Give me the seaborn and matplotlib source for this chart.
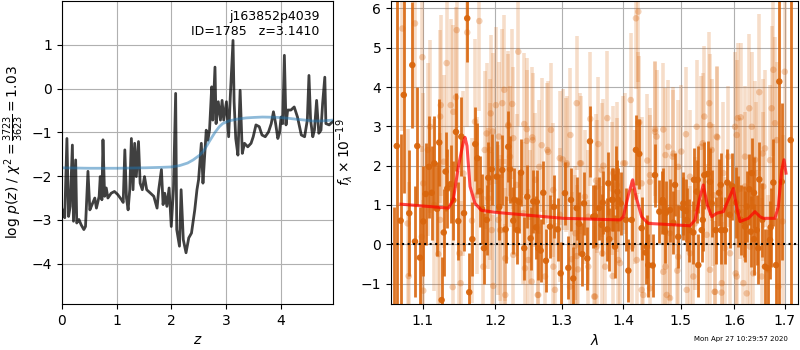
import matplotlib
matplotlib.use("Agg")
import matplotlib.pyplot as plt
import pandas as pd
import seaborn as sns

# ---------------- redshift probability ----------------
z_grid = [0.00, 0.02, 0.05, 0.09, 0.12, 0.15, 0.19, 0.21, 0.25, 0.27, 0.31, 0.35,
          0.40, 0.43, 0.475, 0.51, 0.55, 0.60, 0.63, 0.68, 0.70, 0.73, 0.75, 0.78,
          0.81, 0.84, 0.90, 0.96, 1.02, 1.09, 1.12, 1.15, 1.18, 1.21, 1.24, 1.27,
          1.30, 1.33, 1.36, 1.40, 1.43, 1.47, 1.51, 1.55, 1.62, 1.68, 1.74, 1.77,
          1.82, 1.85, 1.88, 1.92, 1.96, 2.00, 2.04, 2.08, 2.10, 2.15, 2.18, 2.22,
          2.27, 2.32, 2.37, 2.43, 2.47, 2.50, 2.55, 2.58, 2.61, 2.64, 2.67, 2.70,
          2.74, 2.76, 2.80, 2.82, 2.86, 2.90, 2.93, 2.96, 3.01, 3.05, 3.08, 3.13,
          3.15, 3.18, 3.22, 3.26, 3.30, 3.34, 3.40, 3.46, 3.50, 3.55, 3.61, 3.66,
          3.72, 3.78, 3.83, 3.87, 3.91, 3.95, 3.98, 4.01, 4.04, 4.07, 4.10, 4.13,
          4.19, 4.25, 4.31, 4.38, 4.44, 4.49, 4.52, 4.55, 4.59, 4.62, 4.66, 4.70,
          4.74, 4.77, 4.81, 4.83, 4.89, 4.95]
log_pz = [-2.75, -2.84, -2.95, -1.14, -2.92, -2.69, -1.29, -3.03, -1.63, -3.07, -2.99, -3.11,
          -3.22, -3.15, -1.89, -2.77, -2.65, -2.50, -2.73, -2.46, -2.01, -2.54, -1.17, -2.46,
          -2.27, -2.50, -2.39, -2.35, -2.42, -2.54, -2.60, -1.40, -2.50, -2.77, -2.31, -1.14,
          -2.31, -1.25, -2.01, -1.21, -2.16, -2.31, -2.01, -2.31, -2.39, -2.46, -2.73, -2.31,
          -1.85, -2.65, -2.39, -2.69, -2.27, -3.15, -2.31, -0.11, -3.22, -3.60, -2.31, -3.45,
          -3.75, -3.41, -3.30, -2.77, -2.31, -2.08, -1.25, -2.16, -1.55, -0.95, -1.18, -0.95,
          0.04, -0.72, 0.49, -0.80, -0.30, -0.72, -0.27, -0.72, -0.30, -1.10, -0.19, 1.10,
          -0.30, -1.14, -1.52, -0.04, -1.48, -1.25, -1.33, -1.25, -1.10, -0.83, -0.87, -1.06,
          -1.10, -0.99, -0.80, -0.53, -0.80, -1.14, -1.02, -0.65, -0.80, 0.76, -0.83, -0.49,
          -0.49, -0.42, -0.65, -1.06, -1.10, -0.72, 0.30, -0.72, -1.10, -0.95, -0.27, -1.02,
          -0.95, -0.34, 0.26, -0.80, -0.83, -0.76]

z_prior = [0.0, 0.5, 1.0, 1.5, 1.8, 2.0, 2.15, 2.3, 2.4, 2.52, 2.6, 2.7, 2.8, 2.88,
           2.94, 3.05, 3.2, 3.37, 3.5, 3.67, 3.85, 3.98, 4.15, 4.29, 4.45, 4.59, 4.75, 4.95]
log_prior = [-1.81, -1.82, -1.82, -1.81, -1.80, -1.79, -1.76, -1.70, -1.63, -1.52, -1.41,
             -1.20, -1.00, -0.87, -0.80, -0.74, -0.70, -0.67, -0.66, -0.65, -0.655, -0.66,
             -0.68, -0.70, -0.72, -0.74, -0.74, -0.72]

# ---------------- 1D spectrum (binned, strong) ----------------
wave_bin = [1.062, 1.066, 1.071, 1.075, 1.0821, 1.0861, 1.0896, 1.0926, 1.0961, 1.1005,
            1.1037, 1.1081, 1.1117, 1.1152, 1.1190, 1.1219, 1.1251, 1.1280, 1.1305, 1.1328,
            1.1375, 1.1410, 1.1447, 1.1479, 1.1520, 1.1558, 1.1603, 1.1631, 1.1674, 1.1716,
            1.1745, 1.1782, 1.1810, 1.1839, 1.1878, 1.1901, 1.1950, 1.2021, 1.2060, 1.2103,
            1.2152, 1.2190, 1.2216, 1.2264, 1.2323, 1.2349, 1.2379, 1.2427, 1.2472, 1.2523,
            1.2563, 1.2604, 1.2639, 1.2675, 1.2715, 1.2756, 1.2818, 1.2880, 1.2937, 1.2984,
            1.3051, 1.3104, 1.3146, 1.3182, 1.3237, 1.3274, 1.3326, 1.3353, 1.3406, 1.3450,
            1.3531, 1.3596, 1.3657, 1.3733, 1.3766, 1.3822, 1.3872, 1.3899, 1.3956, 1.4045,
            1.4085, 1.4142, 1.4215, 1.4272, 1.4313, 1.4382, 1.4427, 1.4504, 1.4544, 1.4620,
            1.4680, 1.4737, 1.4809, 1.4868, 1.4899, 1.4957, 1.5049, 1.5097, 1.5158, 1.5230,
            1.5292, 1.5311, 1.5385, 1.5433, 1.5496, 1.5539, 1.5571, 1.5647, 1.5708, 1.5746,
            1.5822, 1.5866, 1.5912, 1.5962, 1.6066, 1.6130, 1.6188, 1.6242, 1.6292, 1.6340,
            1.6384, 1.6438, 1.6489, 1.6548, 1.6603, 1.6656, 1.6716, 1.6770, 1.6824, 1.6891,
            1.6940, 1.7124,
            1.2279, 1.2615, 1.3503, 1.3641, 1.3750, 1.3811, 1.3861, 1.3916, 1.4400, 1.4673,
            1.4720, 1.5037, 1.5110, 1.5243, 1.5322, 1.5404, 1.5741, 1.6034, 1.6208, 1.6320,
            1.6384, 1.6469, 1.6703]
flux_bin = [-2.00, 2.50, 0.60, 3.80, 0.79, 4.56, 0.07, 2.50, -0.34, 0.58,
            1.28, 1.97, 1.31, 2.06, 0.90, 2.59, -1.42, 0.30, 1.85, 1.42,
            1.53, 1.12, 2.86, 0.59, 2.74, 0.79, 5.75, -1.22, 0.13, 2.55,
            2.19, 1.35, 0.90, -0.10, 0.62, 1.69, 1.91, 1.72, 0.95, 1.89,
            0.38, 2.48, 1.91, 0.60, 0.36, 1.08, 1.82, -0.10, 1.21, 0.15,
            1.09, 0.43, -0.10, -0.16, 1.31, -0.42, 0.45, 0.95, 0.38, -0.74,
            1.30, -0.60, 1.13, -0.87, 0.92, 0.52, -0.25, 1.04, -0.36, 2.62,
            0.72, 0.92, 1.06, 0.38, 0.13, 1.13, 1.70, 1.34, 1.04, 0.62,
            -0.67, 0.62, 2.40, 2.30, 0.41, -0.21, -0.53, -0.54, 1.76, 0.83,
            1.13, 0.80, 0.87, 0.55, 1.51, 0.19, 1.04, 0.85, 0.36, 0.30,
            1.34, 1.64, 0.36, 1.76, 1.79, 1.59, 1.04, 0.36, 1.31, 0.36,
            0.36, 1.57, 0.75, 1.48, 0.83, 0.62, 0.58, 0.96, 1.40, 1.81,
            0.13, 0.36, 1.65, 0.62, -0.57, -0.61, 0.43, 1.57, -0.53, 4.14,
            1.59, 2.65,
            1.13, 1.08, 0.70, 0.49, 1.55, 1.13, -0.06, 1.13, -0.06, 1.06,
            0.32, 0.92, 0.62, 1.64, -0.53, 0.62, 1.51, 1.06, 0.45, 0.32,
            1.31, -0.10, 0.11]
err_bin = [2.95, 4.50, 2.20, 2.50, 1.60, 1.60, 1.40, 1.50, 1.30, 1.40,
           1.30, 1.30, 1.20, 1.20, 1.20, 1.10, 1.10, 1.10, 1.00, 1.00,
           1.00, 1.00, 1.00, 1.00, 1.00, 0.95, 1.10, 1.00, 0.95, 0.95,
           0.90, 0.90, 0.90, 0.90, 0.90, 0.90, 0.90, 0.90, 0.85, 0.90,
           0.85, 0.90, 0.85, 0.85, 0.85, 0.80, 0.85, 0.80, 0.80, 0.80,
           0.80, 0.80, 0.80, 0.80, 0.80, 0.80, 0.80, 0.80, 0.80, 0.80,
           0.80, 0.80, 0.80, 0.80, 0.80, 0.80, 0.80, 0.80, 0.80, 0.90,
           0.80, 0.80, 0.80, 0.80, 0.80, 0.80, 0.80, 0.80, 0.80, 0.80,
           0.80, 0.80, 0.90, 0.90, 0.80, 0.80, 0.80, 0.80, 0.80, 0.80,
           0.80, 0.80, 0.80, 0.80, 0.80, 0.80, 0.80, 0.80, 0.80, 0.80,
           0.80, 0.85, 0.80, 0.85, 0.85, 0.85, 0.85, 0.85, 0.85, 0.85,
           0.85, 0.85, 0.85, 0.85, 0.90, 0.90, 0.90, 0.90, 0.90, 0.90,
           0.90, 0.90, 0.95, 0.95, 0.95, 1.00, 1.00, 1.10, 1.20, 6.00,
           2.00, 8.00,
           0.80, 0.80, 0.80, 0.80, 0.80, 0.80, 0.80, 0.80, 0.80, 0.80,
           0.80, 0.80, 0.80, 0.80, 0.80, 0.80, 0.80, 0.90, 0.90, 0.90,
           0.90, 0.90, 1.00]

# ---------------- 1D spectrum (unbinned, faint) ----------------
wave_raw = [1.0731, 1.0896, 1.0993, 1.1319, 1.1457, 1.1603, 1.1773, 1.1447, 1.1375, 1.1410,
            1.1239, 1.1231, 1.1095, 1.1065, 1.1712, 1.1935, 1.1964, 1.2010, 1.1005, 1.0800,
            1.0813, 1.1005, 1.1206, 1.1231, 1.1402, 1.1511, 1.1493, 1.1745, 1.1925, 1.1950,
            1.0985, 1.1150, 1.1280, 1.1550, 1.1670, 1.1850,
            1.2338, 1.2132, 1.2103, 1.2248, 1.2190, 1.2427, 1.2465, 1.2548, 1.2691, 1.2777,
            1.2832, 1.3136, 1.3237, 1.3455, 1.3585, 1.2970, 1.3074, 1.3305, 1.2594, 1.2313,
            1.2216, 1.2054, 1.2044, 1.2087, 1.2146, 1.2487, 1.2630, 1.2741, 1.2894, 1.3157,
            1.3255, 1.3518, 1.3558, 1.3368, 1.3423, 1.2867, 1.3214, 1.2413, 1.3650,
            1.4215, 1.4255, 1.4126, 1.4272, 1.3733, 1.4544, 1.4572, 1.4779, 1.4855, 1.5011,
            1.5097, 1.5292, 1.4313, 1.4410, 1.4456, 1.4000, 1.3832, 1.3640, 1.3890, 1.4728,
            1.4957, 1.3697, 1.3916, 1.4142, 1.4341, 1.4456, 1.4728, 1.4939, 1.4809, 1.5110,
            1.5170, 1.5262,
            1.5433, 1.5526, 1.5373, 1.5571, 1.5678, 1.5886, 1.6015, 1.6066, 1.6125, 1.6292,
            1.6340, 1.6489, 1.6603, 1.6736, 1.6770, 1.7002, 1.6803, 1.6403, 1.5791, 1.6208,
            1.5478, 1.5918, 1.6028, 1.6176, 1.5627, 1.5757, 1.6536, 1.6959,
            1.1877, 1.1925, 1.2191, 1.2264, 1.2463, 1.2553, 1.2791, 1.2654, 1.3015, 1.3078,
            1.3289, 1.3667, 1.3889, 1.4029, 1.3548, 1.3806, 1.1901, 1.2142, 1.2513, 1.2070,
            1.2973, 1.3209, 1.3558, 1.1972, 1.2146, 1.2539, 1.2639, 1.3130, 1.3531, 1.3822,
            1.3945, 1.3422, 1.3237, 1.2869, 1.2438, 1.2264, 1.1829,
            1.4255, 1.4544, 1.4690, 1.5539, 1.5666, 1.4868, 1.5404, 1.6047, 1.6208, 1.6425,
            1.6557, 1.6703, 1.6839, 1.4457, 1.5170, 1.5601, 1.6111, 1.6568, 1.4198, 1.4809,
            1.5822, 1.6306, 1.4228, 1.4690, 1.4957, 1.5230, 1.5539, 1.5760, 1.6048, 1.6370,
            1.6669, 1.4313, 1.4751, 1.5633, 1.6242, 1.6871]
flux_raw = [5.49, 5.62, 4.76, 4.61, 5.45, 5.39, 5.68, 3.74, 3.54, 3.37,
            3.54, 3.25, 2.99, 2.40, 3.12, 3.33, 2.87, 3.54, 1.55, 0.53,
            -0.81, -1.18, -0.25, 0.62, -1.09, -0.99, -0.23, 1.25, 1.59, 0.36,
            0.19, 1.00, 2.10, 1.80, 0.60, 2.40,
            4.90, 3.93, 3.59, 3.57, 3.04, 3.06, 2.93, 2.72, 2.52, 2.40,
            2.91, 2.78, 3.59, 3.19, 2.55, 2.19, 2.02, 2.06, 1.64, 1.51,
            2.23, 2.74, 0.62, 0.36, -0.36, -0.40, -1.29, -0.82, -1.16, -0.38,
            -0.64, -1.33, 1.47, 1.21, 0.70, 1.38, 0.28, 0.79, -0.23,
            5.75, 5.92, 3.67, 3.10, 3.21, 2.93, 2.74, 2.48, 2.23, 2.36,
            2.80, 2.99, 1.55, 2.13, 1.76, 2.06, 1.81, 1.89, 1.51, 2.27,
            1.97, -0.57, -0.40, -0.06, -1.29, -1.12, -0.57, -0.67, -1.37, -1.16,
            -0.23, 0.53,
            3.25, 3.59, 2.48, 2.40, 2.72, 2.23, 2.99, 3.21, 3.23, 3.46,
            2.99, 3.87, 2.44, 3.46, 4.44, 4.39, 3.08, 2.15, 1.81, 1.47,
            0.24, -0.23, -0.74, -0.99, -1.21, -1.23, -0.82, 0.58,
            2.82, 2.40, 3.01, 2.70, 2.63, 2.65, 2.35, 1.97, 2.16, 2.06,
            2.06, 2.00, 1.81, 2.06, 1.62, 1.42, 1.17, 0.36, 0.70, 0.36,
            0.75, -0.04, -0.06, -1.06, -1.29, -0.95, -1.29, -1.08, -1.33, -0.81,
            -0.48, -0.57, -0.30, -0.57, -0.61, -0.27, -0.57,
            3.09, 2.86, 2.92, 3.03, 2.74, 2.31, 2.57, 2.78, 2.23, 1.81,
            2.31, 2.14, 2.65, 1.59, 1.72, 1.25, 1.42, 1.47, 1.21, 0.28,
            -0.10, -0.06, -0.40, -0.70, -0.32, -0.82, -0.65, -0.99, -0.82, -0.74,
            -0.65, -1.16, -1.29, -1.21, -1.25, -1.08]
err_raw = [2.6, 2.6, 2.4, 2.4, 2.5, 2.4, 2.3, 2.3, 2.2, 2.2,
           2.3, 2.2, 2.2, 2.2, 2.1, 2.0, 2.0, 2.0, 2.3, 2.4,
           2.4, 2.3, 2.2, 2.2, 2.1, 2.1, 2.1, 2.0, 2.0, 2.0,
           2.3, 2.2, 2.2, 2.1, 2.1, 2.0,
           1.9, 1.9, 1.9, 1.9, 1.8, 1.8, 1.8, 1.8, 1.7, 1.7,
           1.7, 1.7, 1.7, 1.7, 1.7, 1.7, 1.7, 1.7, 1.7, 1.8,
           1.8, 1.9, 1.9, 1.9, 1.8, 1.8, 1.7, 1.7, 1.7, 1.7,
           1.7, 1.7, 1.7, 1.7, 1.7, 1.7, 1.7, 1.8, 1.7,
           1.8, 1.8, 1.7, 1.7, 1.7, 1.7, 1.7, 1.7, 1.7, 1.7,
           1.7, 1.7, 1.7, 1.7, 1.7, 1.7, 1.7, 1.7, 1.7, 1.7,
           1.7, 1.7, 1.7, 1.7, 1.7, 1.7, 1.7, 1.7, 1.7, 1.7,
           1.7, 1.7,
           1.8, 1.8, 1.8, 1.8, 1.8, 1.8, 1.9, 1.9, 1.9, 1.9,
           1.9, 2.0, 2.0, 2.1, 2.2, 2.4, 2.2, 2.0, 1.8, 1.9,
           1.8, 1.8, 1.9, 1.9, 1.8, 1.8, 2.0, 2.2,
           1.8, 1.8, 1.9, 1.8, 1.8, 1.7, 1.8, 1.7, 1.8, 1.7,
           1.8, 1.7, 1.8, 1.8, 1.7, 1.7, 1.8, 1.8, 1.7, 1.8,
           1.7, 1.8, 1.7, 1.8, 1.8, 1.7, 1.8, 1.7, 1.8, 1.7,
           1.8, 1.7, 1.8, 1.7, 1.8, 1.7, 1.8,
           1.8, 1.8, 1.7, 1.8, 1.8, 1.7, 1.8, 1.9, 1.8, 1.8,
           1.9, 1.9, 2.0, 1.7, 1.7, 1.8, 1.8, 1.9, 1.7, 1.7,
           1.8, 1.8, 1.7, 1.7, 1.7, 1.7, 1.8, 1.8, 1.8, 1.9,
           1.9, 1.7, 1.7, 1.8, 1.8, 2.0]

# ---------------- best-fit model ----------------
model_wave = [1.0714, 1.1342, 1.1410, 1.1479, 1.1548, 1.1572, 1.1600, 1.1642, 1.1712, 1.1807,
              1.2021, 1.3025, 1.3945, 1.4000, 1.4085, 1.4159, 1.4215, 1.4313, 1.4427, 1.4690,
              1.5170, 1.5262, 1.5341, 1.5414, 1.5489, 1.5571, 1.5666, 1.5791, 1.5886, 1.5981,
              1.6058, 1.6111, 1.6273, 1.6403, 1.6504, 1.6568, 1.6803, 1.6871, 1.6940, 1.6986,
              1.7027]
model_flux = [1.02, 0.92, 1.13, 1.97, 2.60, 2.72, 2.50, 1.47, 1.04, 0.86,
              0.81, 0.66, 0.62, 0.70, 1.25, 1.64, 1.21, 0.70, 0.53, 0.51,
              0.47, 0.62, 1.13, 1.51, 1.00, 0.70, 0.79, 0.83, 1.13, 1.42,
              0.87, 0.58, 0.66, 0.83, 0.70, 0.66, 0.66, 0.96, 1.89, 2.15,
              1.81]

wave_ticks = [1.1, 1.2, 1.3, 1.4, 1.5, 1.6, 1.7]
object_name = "j163852p4039"
object_id = 1785
z_best = 3.1410
timestamp = "Mon Apr 27 10:29:57 2020"

ORANGE = (0.85, 0.40, 0.05)

pz_df = pd.DataFrame({"z": z_grid, "logp": log_pz})
prior_df = pd.DataFrame({"z": z_prior, "logp": log_prior})
bin_df = pd.DataFrame({"wave": wave_bin, "flux": flux_bin, "err": err_bin})
raw_df = pd.DataFrame({"wave": wave_raw, "flux": flux_raw, "err": err_raw})
model_df = pd.DataFrame({"wave": model_wave, "flux": model_flux})

plt.rcParams["font.family"] = ["DejaVu Sans"]
fig = plt.figure(figsize=(8, 3.5), dpi=100)
ax1 = fig.add_axes([62 / 800, 1 - 304 / 350, 271 / 800, 303 / 350])
ax2 = fig.add_axes([391 / 800, 1 - 304 / 350, 407 / 800, 303 / 350])

# left: p(z)
sns.lineplot(data=pz_df, x="z", y="logp", ax=ax1, color="k", alpha=0.75,
             linewidth=2, sort=False, estimator=None)
sns.lineplot(data=prior_df, x="z", y="logp", ax=ax1, color="#1f77b4", alpha=0.5,
             linewidth=2, sort=False, estimator=None)
ax1.set_xlim(0, 4.96)
ax1.set_ylim(-4.92, 2.0)
ax1.set_xticks([0, 1, 2, 3, 4])
ax1.set_yticks([-4, -3, -2, -1, 0, 1])
ax1.grid(True, color="#b0b0b0", linewidth=0.8)
ax1.set_axisbelow(True)
ax1.set_xlabel("$z$")
ax1.set_ylabel(r"log $p(z)$ / $\chi^2=\frac{3723}{3623}=1.03$")
ax1.text(0.95, 0.97, f"{object_name}\nID={object_id}   z={z_best:.4f}",
         transform=ax1.transAxes, ha="right", va="top", fontsize=9)

# right: spectrum
ax2.set_xscale("log")
ax2.errorbar(raw_df["wave"], raw_df["flux"], yerr=raw_df["err"], fmt="none",
             ecolor=ORANGE, alpha=0.22, elinewidth=2.6)
sns.scatterplot(data=raw_df, x="wave", y="flux", ax=ax2, color=ORANGE, alpha=0.3,
                s=22, edgecolor="none")
ax2.errorbar(bin_df["wave"], bin_df["flux"], yerr=bin_df["err"], fmt="none",
             ecolor=ORANGE, alpha=0.9, elinewidth=2.0)
sns.scatterplot(data=bin_df, x="wave", y="flux", ax=ax2, color=ORANGE, alpha=0.95,
                s=22, edgecolor="none")
sns.lineplot(data=model_df, x="wave", y="flux", ax=ax2, color="red", alpha=0.7,
             linewidth=2.2, sort=False, estimator=None)
ax2.axhline(0, color="k", linestyle=":", linewidth=1.5)
ax2.set_xlim(1.0586, 1.7275)
ax2.set_ylim(-1.52, 6.19)
ax2.set_xticks(wave_ticks)
ax2.set_xticklabels([f"{w:.1f}" for w in wave_ticks])
ax2.xaxis.set_minor_locator(matplotlib.ticker.NullLocator())
ax2.set_yticks([-1, 0, 1, 2, 3, 4, 5, 6])
ax2.grid(True, color="#b0b0b0", linewidth=0.8)
ax2.set_axisbelow(True)
ax2.set_xlabel(r"$\lambda$")
ax2.set_ylabel(r"$f_\lambda \times 10^{-19}$")

fig.text(0.985, 0.022, timestamp, ha="right", va="bottom", fontsize=5)

fig.savefig("out.png", dpi=100)
